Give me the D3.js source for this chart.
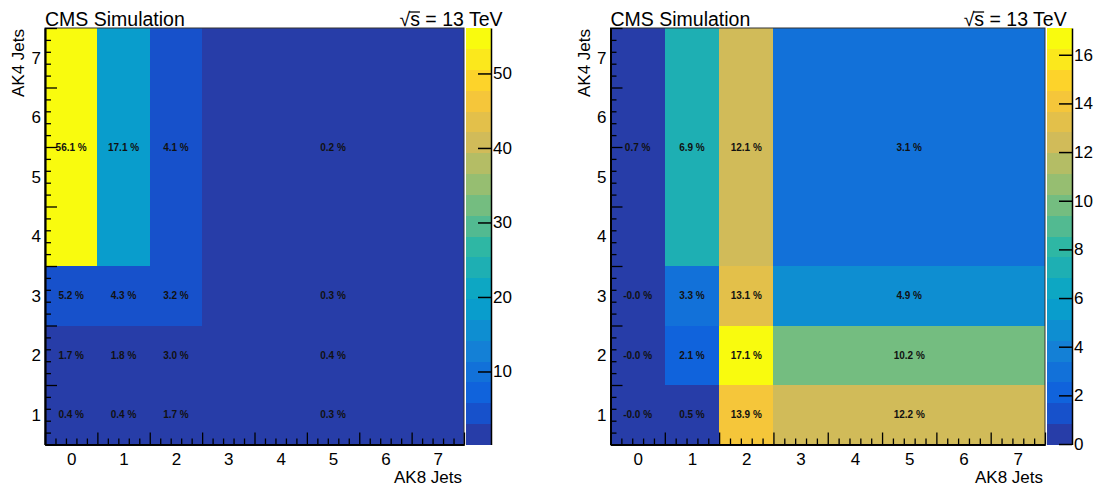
<!DOCTYPE html>
<html>
<head>
<meta charset="utf-8">
<script src="https://cdn.jsdelivr.net/npm/d3@7"></script>
<style>
    body { margin: 0; background: #fff; }
    svg { display: block; font-family: 'Liberation Sans', Arial, Helvetica, sans-serif; }
</style>
</head>
<body>
<svg id="chart" width="1099" height="489"></svg>
<script>
// bin edges: AK8 jets on x, AK4 jets on y (last bin of each is merged)
const xEdges = [-0.5, 0.5, 1.5, 2.5, 7.5];
const yEdges = [0.5, 1.5, 2.5, 3.5, 7.5];
const xTickLabels = [0, 1, 2, 3, 4, 5, 6, 7];
const yTickLabels = [1, 2, 3, 4, 5, 6, 7];

// left panel, one row per y bin from the bottom (values in %)
const leftRow1 = [0.4, 0.4, 1.7, 0.3];
const leftRow2 = [1.7, 1.8, 2.96, 0.4];
const leftRow3 = [5.2, 4.3, 3.2, 0.3];
const leftRow4 = [56.1, 17.1, 4.1, 0.2];
const leftColorTicks = [10, 20, 30, 40, 50];

// right panel
const rightRow1 = [-0.02, 0.5, 13.9, 12.2];
const rightRow2 = [-0.02, 2.1, 17.1, 10.2];
const rightRow3 = [-0.02, 3.3, 13.1, 4.9];
const rightRow4 = [0.7, 6.9, 12.1, 3.1];
const rightColorTicks = [0, 2, 4, 6, 8, 10, 12, 14, 16];

// ROOT kBird palette
const birdStops = [0.0, 0.125, 0.25, 0.375, 0.5, 0.625, 0.75, 0.875, 1.0];
const birdRed = [0.2082, 0.0592, 0.0780, 0.0232, 0.1802, 0.5301, 0.8186, 0.9956, 0.9764];
const birdGreen = [0.1664, 0.3599, 0.5041, 0.6419, 0.7178, 0.7492, 0.7328, 0.7862, 0.9832];
const birdBlue = [0.5293, 0.8684, 0.8385, 0.7914, 0.6425, 0.4662, 0.3499, 0.1968, 0.0539];

const nLevels = 20;

const bird = d3.scaleLinear()
    .domain(birdStops)
    .range(birdStops.map((s, i) => d3.rgb(birdRed[i] * 255, birdGreen[i] * 255, birdBlue[i] * 255)))
    .interpolate(d3.interpolateRgb);

// same colour pick as ROOT does for contour level i
function levelColor(i) {
    const idx = Math.floor((i + 0.99) * 255 / nLevels);
    return bird(idx / 254);
}

function drawPanel(svg, rows, colorTicks, box) {
    const g = svg.append('g');

    const x = d3.scaleLinear().domain([-0.5, 7.5]).range([box.left, box.right]);
    const y = d3.scaleLinear().domain([0.5, 7.5]).range([box.bottom, box.top]);

    const all = rows.flat();
    const zMin = d3.min(all);
    const zMax = d3.max(all);
    const level = v => Math.max(0, Math.min(nLevels - 1,
        Math.floor(0.01 + (v - zMin) * nLevels / (zMax - zMin))));

    const cells = [];
    rows.forEach((row, j) => {
        row.forEach((v, i) => {
            cells.push({ x0: xEdges[i], x1: xEdges[i + 1], y0: yEdges[j], y1: yEdges[j + 1], v: v });
        });
    });

    g.selectAll('.cell')
        .data(cells)
        .enter()
        .append('rect')
        .attr('class', 'cell')
        .attr('x', d => x(d.x0))
        .attr('y', d => y(d.y1))
        .attr('width', d => x(d.x1) - x(d.x0))
        .attr('height', d => y(d.y0) - y(d.y1))
        .attr('fill', d => levelColor(level(d.v)))
        .attr('shape-rendering', 'crispEdges');

    g.selectAll('.cell-label')
        .data(cells)
        .enter()
        .append('text')
        .attr('class', 'cell-label')
        .attr('x', d => x((d.x0 + d.x1) / 2))
        .attr('y', d => y((d.y0 + d.y1) / 2))
        .attr('dy', '0.35em')
        .attr('text-anchor', 'middle')
        .attr('font-size', 10)
        .attr('font-weight', 'bold')
        .attr('fill', '#111')
        .text(d => `${d.v.toFixed(1)} %`);

    // frame
    g.append('rect')
        .attr('x', box.left)
        .attr('y', box.top)
        .attr('width', box.right - box.left)
        .attr('height', box.bottom - box.top)
        .attr('fill', 'none')
        .attr('stroke', '#333')
        .attr('stroke-width', 1);

    // ticks on bin edges, minor ticks in between, labels at bin centres
    const xMajor = d3.range(-0.5, 7.51, 1);
    const xMinor = d3.range(-0.5, 7.5, 0.2).filter(v => Math.abs(v - Math.round(v - 0.5) - 0.5) > 0.01);
    const yMajor = d3.range(0.5, 7.51, 1);
    const yMinor = d3.range(0.5, 7.5, 0.2).filter(v => Math.abs(v - Math.round(v - 0.5) - 0.5) > 0.01);
    const intFormat = d3.format('d');

    const xAxisG = g.append('g').attr('transform', `translate(0,${box.bottom})`);
    xAxisG.append('g').call(d3.axisBottom(x).tickValues(xMinor).tickSize(-6).tickSizeOuter(0).tickFormat(''));
    xAxisG.append('g').call(d3.axisBottom(x).tickValues(xMajor).tickSize(-12).tickSizeOuter(0).tickFormat(''));
    xAxisG.append('g').call(d3.axisBottom(x).tickValues(xTickLabels).tickSize(0).tickSizeOuter(0)
        .tickPadding(8).tickFormat(intFormat));

    const yAxisG = g.append('g').attr('transform', `translate(${box.left},0)`);
    yAxisG.append('g').call(d3.axisLeft(y).tickValues(yMinor).tickSize(-6).tickSizeOuter(0).tickFormat(''));
    yAxisG.append('g').call(d3.axisLeft(y).tickValues(yMajor).tickSize(-12).tickSizeOuter(0).tickFormat(''));
    yAxisG.append('g').call(d3.axisLeft(y).tickValues(yTickLabels).tickSize(0).tickSizeOuter(0)
        .tickPadding(4).tickFormat(intFormat));

    [xAxisG, yAxisG].forEach(a => {
        a.selectAll('.domain').attr('stroke', '#000').attr('stroke-width', 1.5);
        a.selectAll('.tick line').attr('stroke', '#000').attr('stroke-width', 1.3);
        a.selectAll('text').attr('font-size', 17).attr('font-family', null).attr('fill', '#000');
    });

    // axis titles
    g.append('text')
        .attr('x', box.right - 2)
        .attr('y', 483)
        .attr('text-anchor', 'end')
        .attr('font-size', 17)
        .text('AK8 Jets');

    g.append('text')
        .attr('transform', `translate(${box.left - 21},${box.top + 1}) rotate(-90)`)
        .attr('text-anchor', 'end')
        .attr('font-size', 17)
        .text('AK4 Jets');

    // colour bar
    const z = d3.scaleLinear().domain([zMin, zMax]).range([box.bottom, box.top]);
    const dz = (zMax - zMin) / nLevels;

    g.selectAll('.band')
        .data(d3.range(nLevels))
        .enter()
        .append('rect')
        .attr('class', 'band')
        .attr('x', box.cbLeft)
        .attr('y', i => z(zMin + (i + 1) * dz))
        .attr('width', box.cbRight - box.cbLeft)
        .attr('height', i => z(zMin + i * dz) - z(zMin + (i + 1) * dz) + 0.3)
        .attr('fill', i => levelColor(i))
        .attr('shape-rendering', 'crispEdges');

    const zAxisG = g.append('g')
        .attr('transform', `translate(${box.cbRight},0)`)
        .call(d3.axisRight(z).tickValues(colorTicks).tickSize(-13).tickSizeOuter(0)
            .tickPadding(2).tickFormat(intFormat));
    zAxisG.selectAll('.domain').attr('stroke', '#000').attr('stroke-width', 1.5);
    zAxisG.selectAll('.tick line').attr('stroke', '#000').attr('stroke-width', 1.5);
    zAxisG.selectAll('text').attr('font-size', 17).attr('font-family', null).attr('fill', '#000');

    // header texts
    g.append('text')
        .attr('x', box.left)
        .attr('y', 26)
        .attr('font-size', 19.5)
        .text('CMS Simulation');

    const energy = g.append('text')
        .attr('x', box.energyRight)
        .attr('y', 26)
        .attr('text-anchor', 'end')
        .attr('font-size', 19.5);
    energy.append('tspan').text('\u221A');
    energy.append('tspan').text('s = 13 TeV');

    // bar over the s of the square root
    const node = energy.node();
    const rootBox = node.getExtentOfChar(0);
    const sBox = node.getExtentOfChar(1);
    g.append('line')
        .attr('x1', rootBox.x + rootBox.width - 1)
        .attr('x2', sBox.x + sBox.width)
        .attr('y1', 12)
        .attr('y2', 12)
        .attr('stroke', '#000')
        .attr('stroke-width', 1.3);
}

const svg = d3.select('#chart');

const leftBox = { left: 45, right: 464, top: 28, bottom: 444.5, cbLeft: 466, cbRight: 491, energyRight: 502.5 };
const rightBox = { left: 610.5, right: 1045, top: 28, bottom: 444.5, cbLeft: 1047, cbRight: 1072, energyRight: 1066.7 };

drawPanel(svg, [leftRow1, leftRow2, leftRow3, leftRow4], leftColorTicks, leftBox);
drawPanel(svg, [rightRow1, rightRow2, rightRow3, rightRow4], rightColorTicks, rightBox);
</script>
</body>
</html>
